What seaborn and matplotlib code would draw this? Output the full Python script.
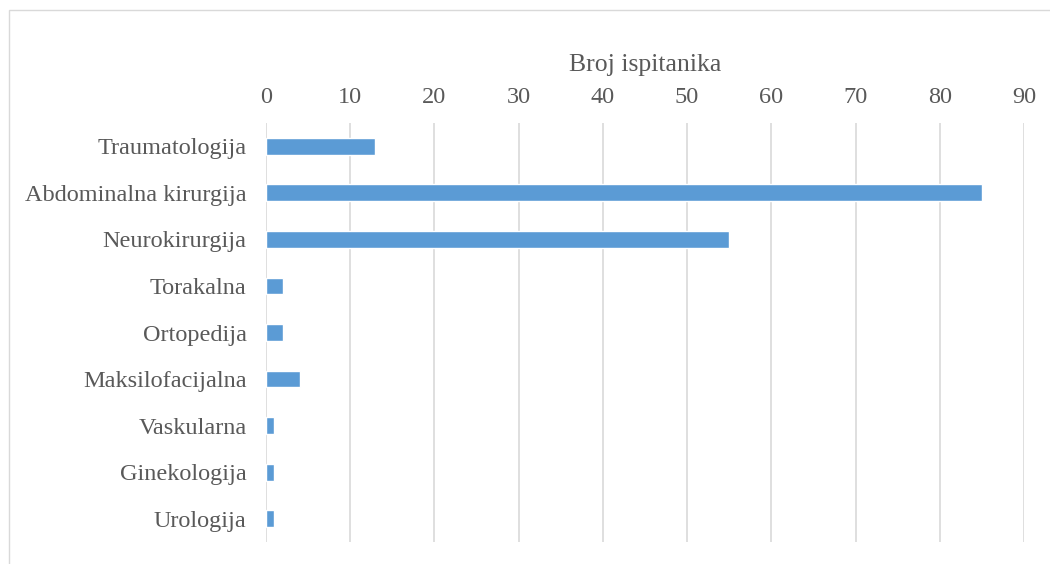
import matplotlib
matplotlib.use('Agg')
import matplotlib.pyplot as plt
import seaborn as sns
import pandas as pd
from matplotlib.patches import Rectangle

# podaci
kategorije = ['Traumatologija', 'Abdominalna kirurgija', 'Neurokirurgija', 'Torakalna',
              'Ortopedija', 'Maksilofacijalna', 'Vaskularna', 'Ginekologija', 'Urologija']
broj = [13, 85, 55, 2, 2, 4, 1, 1, 1]
x_ticks = [0, 10, 20, 30, 40, 50, 60, 70, 80, 90]

sns.set_theme(style='white')
plt.rcParams['font.family'] = ['Liberation Serif', 'DejaVu Serif']

TEXT = '#595959'
GRID = '#D9D9D9'

df = pd.DataFrame({'kategorija': kategorije, 'broj': broj})

fig = plt.figure(figsize=(10.5, 5.64), dpi=100)
ax = fig.add_axes([266 / 1050, 1 - 542 / 564, (1024 - 266) / 1050, (542 - 123) / 564])

sns.barplot(data=df, x='broj', y='kategorija', orient='h', color='#5B9BD5',
            saturation=1, width=0.36, ax=ax, zorder=3)

ax.set_xlim(0, 90)
ax.set_xticks(x_ticks)
ax.xaxis.tick_top()
ax.xaxis.set_label_position('top')
ax.set_xlabel('Broj ispitanika', fontsize=18.5, color=TEXT, labelpad=11)
ax.set_ylabel('')
ax.tick_params(axis='x', labelsize=17.5, colors=TEXT, length=0, pad=11)
ax.tick_params(axis='y', labelsize=17.5, colors=TEXT, length=0, pad=14)
ax.grid(axis='x', color=GRID, linewidth=1.2, zorder=0)
ax.grid(axis='y', visible=False)
for s in ax.spines.values():
    s.set_visible(False)

# okvir grafikona
fig.patches.append(Rectangle((9 / 1050, -0.05), 1.1, 1 - 10 / 564 + 0.05,
                             transform=fig.transFigure, fill=False,
                             edgecolor='#D9D9D9', linewidth=1))

plt.savefig('out.png', dpi=100)
plt.close()
